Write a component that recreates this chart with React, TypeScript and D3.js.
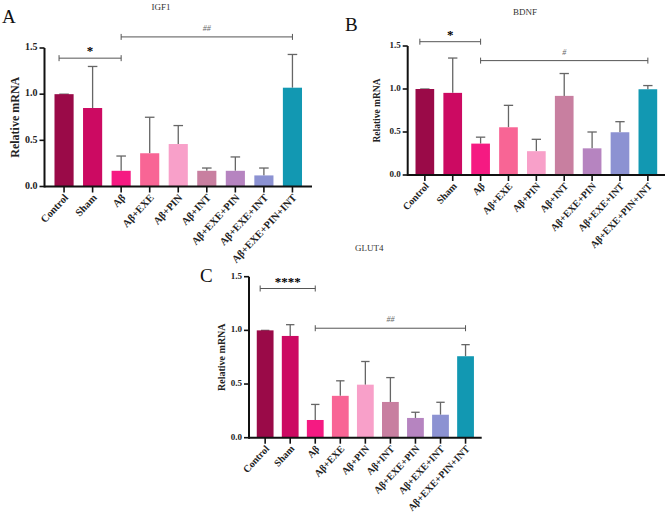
import * as d3 from 'd3';

const categories = ['Control', 'Sham', 'Aβ', 'Aβ+EXE', 'Aβ+PIN', 'Aβ+INT', 'Aβ+EXE+PIN', 'Aβ+EXE+INT', 'Aβ+EXE+PIN+INT'];
const colors = ['#9a0a48', '#cc0a62', '#f51a82', '#f86595', '#f8a0c9', '#c87fa0', '#b684c0', '#8c92d2', '#1298b2'];
const yTicks = [0, 0.5, 1.0, 1.5];

// mean and top of error bar (mean + SD)
const igf1Mean = [1.0, 0.85, 0.17, 0.36, 0.46, 0.17, 0.17, 0.12, 1.07];
const igf1Top = [1.0, 1.3, 0.33, 0.75, 0.66, 0.2, 0.32, 0.2, 1.43];
const bdnfMean = [1.0, 0.955, 0.365, 0.555, 0.277, 0.92, 0.31, 0.497, 0.997];
const bdnfTop = [1.0, 1.36, 0.44, 0.81, 0.415, 1.18, 0.5, 0.62, 1.04];
const glut4Mean = [1.0, 0.948, 0.165, 0.39, 0.494, 0.333, 0.184, 0.214, 0.759];
const glut4Top = [1.0, 1.053, 0.31, 0.53, 0.71, 0.56, 0.237, 0.33, 0.867];

const font = '"Liberation Serif", "Times New Roman", serif';

type Sig = { from: number; to: number; level: number; label: string; bold: boolean };

type PanelProps = {
  title: string; titleX: number; titleY: number;
  letter: string; letterX: number; letterY: number;
  x0: number; x1: number; yTop: number; yBottom: number; outer: number;
  mean: number[]; top: number[];
  labelX: number; labelSize: number; tickSize: number; catSize: number;
  sigs: Sig[];
};

function Panel(p: PanelProps) {
  const x = d3.scaleBand<string>().domain(categories).range([p.x0, p.x1]).paddingInner(0.33).paddingOuter(p.outer);
  const y = d3.scaleLinear().domain([0, 1.5]).range([p.yBottom, p.yTop]);
  const bw = x.bandwidth();
  const cx = (c: string) => (x(c) as number) + bw / 2;
  const cap = bw * 0.25;
  return (
    <g fontFamily={font}>
      <text x={p.titleX} y={p.titleY} fontSize={9} fill="#333" textAnchor="middle">{p.title}</text>
      <text x={p.letterX} y={p.letterY} fontSize={19} fill="#111">{p.letter}</text>
      {categories.map((c, i) => (
        <g key={c}>
          <line x1={cx(c)} x2={cx(c)} y1={y(p.mean[i])} y2={y(p.top[i])} stroke="#666" strokeWidth={1.3} />
          <line x1={cx(c) - cap} x2={cx(c) + cap} y1={y(p.top[i])} y2={y(p.top[i])} stroke="#666" strokeWidth={1.3} />
          <rect x={x(c)} y={y(p.mean[i])} width={bw} height={p.yBottom - y(p.mean[i])} fill={colors[i]} />
          <line x1={cx(c)} x2={cx(c)} y1={p.yBottom} y2={p.yBottom + 6} stroke="#111" strokeWidth={1.6} />
          <text
            transform={`translate(${cx(c) + 3},${p.yBottom + 10}) rotate(-47)`}
            textAnchor="end" dominantBaseline="middle" fontSize={p.catSize} fontWeight="bold" fill="#222"
          >{c}</text>
        </g>
      ))}
      <line x1={p.x0} x2={p.x1} y1={p.yBottom} y2={p.yBottom} stroke="#111" strokeWidth={2} />
      <line x1={p.x0} x2={p.x0} y1={p.yTop} y2={p.yBottom + 1} stroke="#111" strokeWidth={2} />
      {yTicks.map(t => (
        <g key={t}>
          <line x1={p.x0 - 5} x2={p.x0} y1={y(t)} y2={y(t)} stroke="#111" strokeWidth={1.6} />
          <text x={p.x0 - 7} y={y(t)} textAnchor="end" dominantBaseline="middle" fontSize={p.tickSize} fontWeight="bold" fill="#222">{t.toFixed(1)}</text>
        </g>
      ))}
      <text
        transform={`translate(${p.labelX},${(p.yTop + p.yBottom) / 2}) rotate(-90)`}
        textAnchor="middle" dominantBaseline="middle" fontSize={p.labelSize} fontWeight="bold" fill="#222"
      >Relative mRNA</text>
      {p.sigs.map((s, i) => {
        const a = cx(categories[s.from]) - (s.from === 0 ? 5 : 0);
        const b = cx(categories[s.to]);
        const ly = y(s.level);
        return (
          <g key={i}>
            <line x1={a} x2={b} y1={ly} y2={ly} stroke="#555" strokeWidth={1} />
            <line x1={a} x2={a} y1={ly - 3} y2={ly + 3} stroke="#555" strokeWidth={1} />
            <line x1={b} x2={b} y1={ly - 3} y2={ly + 3} stroke="#555" strokeWidth={1} />
            <text
              x={(a + b) / 2} y={s.bold ? ly - 3 : ly - 6}
              textAnchor="middle" fontSize={s.bold ? 13 : 8}
              fontWeight={s.bold ? 'bold' : 'normal'} fontStyle={s.bold ? 'normal' : 'italic'}
              fill={s.bold ? '#000' : '#666'}
            >{s.label}</text>
          </g>
        );
      })}
    </g>
  );
}

export default function App() {
  return (
    <svg width={669} height={516} style={{ position: 'absolute', left: 0, top: 0, background: '#fff' }}>
      <rect width={669} height={516} fill="#fff" />
      <Panel
        title="IGF1" titleX={161} titleY={10} letter="A" letterX={2} letterY={23}
        x0={44.5} x1={312} yTop={48} yBottom={186.5} outer={0.35}
        mean={igf1Mean} top={igf1Top} labelX={16} labelSize={12} tickSize={10} catSize={10.5}
        sigs={[
          { from: 0, to: 2, level: 1.39, label: '*', bold: true },
          { from: 2, to: 8, level: 1.62, label: '##', bold: false },
        ]}
      />
      <Panel
        title="BDNF" titleX={525} titleY={15} letter="B" letterX={345} letterY={31}
        x0={407.7} x1={665} yTop={46} yBottom={175} outer={0.28}
        mean={bdnfMean} top={bdnfTop} labelX={378} labelSize={9.5} tickSize={9} catSize={10}
        sigs={[
          { from: 0, to: 2, level: 1.55, label: '*', bold: true },
          { from: 2, to: 8, level: 1.33, label: '#', bold: false },
        ]}
      />
      <text x={355} y={251} fontSize={9} fill="#333" fontFamily={font}>GLUT4</text>
      <Panel
        title="" titleX={0} titleY={0} letter="C" letterX={200} letterY={282}
        x0={249} x1={481.7} yTop={276.7} yBottom={437.7} outer={0.31}
        mean={glut4Mean} top={glut4Top} labelX={223} labelSize={10} tickSize={9} catSize={10}
        sigs={[
          { from: 0, to: 2, level: 1.39, label: '****', bold: true },
          { from: 2, to: 8, level: 1.02, label: '##', bold: false },
        ]}
      />
    </svg>
  );
}
